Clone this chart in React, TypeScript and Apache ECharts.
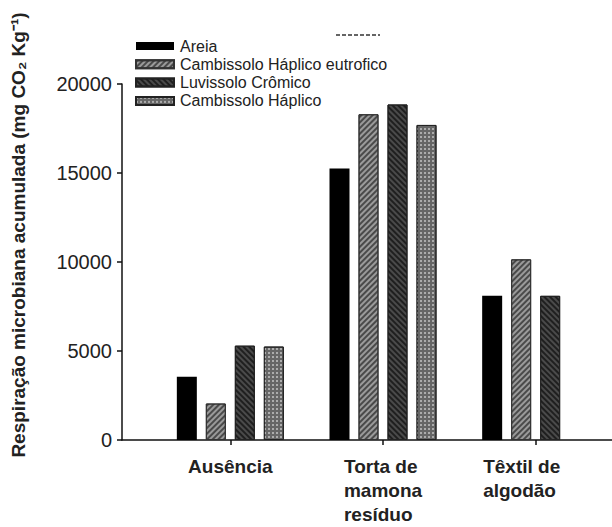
import React, { useEffect, useRef } from "react";
import * as echarts from "echarts";

const categories = ["Ausência", "Torta de\nmamona\nresíduo", "Têxtil de\nalgodão"];
const seriesNames = [
  "Areia",
  "Cambissolo Háplico eutrofico",
  "Luvissolo Crômico",
  "Cambissolo Háplico",
];
const areia = [3550, 15250, 8100];
const cambissoloEutrofico = [2050, 18300, 10150];
const luvissolo = [5300, 18850, 8100];
const cambissolo = [5250, 17700, null];
const yTicks = { min: 0, max: 20000, interval: 5000 };
const yTitle = "Respiração microbiana acumulada (mg CO₂ Kg⁻¹)";

const FONT = "'Liberation Sans', Arial, Helvetica, sans-serif";

export default function App() {
  const ref = useRef<HTMLDivElement>(null);
  useEffect(() => {
    if (!ref.current) return;
    const chart = echarts.init(ref.current, undefined, { renderer: "svg" });
    const values = [areia, cambissoloEutrofico, luvissolo, cambissolo];
    const styles: any[] = [
      { color: "#000000" },
      {
        color: "#9a9a9a",
        borderColor: "#333",
        borderWidth: 1,
        decal: {
          symbol: "rect",
          symbolSize: 1,
          dashArrayX: [1, 0],
          dashArrayY: [1.2, 1.8],
          rotation: -Math.PI / 4,
          color: "rgba(40,40,40,0.7)",
          backgroundColor: "#a8a8a8",
        },
      },
      {
        color: "#4a4a4a",
        borderColor: "#222",
        borderWidth: 1,
        decal: {
          symbol: "rect",
          symbolSize: 1,
          dashArrayX: [1, 0],
          dashArrayY: [1.2, 1.8],
          rotation: Math.PI / 4,
          color: "rgba(20,20,20,0.8)",
          backgroundColor: "#5a5a5a",
        },
      },
      {
        color: "#666",
        borderColor: "#222",
        borderWidth: 1,
        decal: {
          symbol: "rect",
          symbolSize: 1,
          dashArrayX: [2, 2],
          dashArrayY: [2, 2],
          rotation: 0,
          color: "rgba(190,190,190,0.8)",
          backgroundColor: "#4e4e4e",
        },
      },
    ];
    const labelRich = {
      a: {
        fontFamily: FONT,
        fontSize: 19,
        fontWeight: "bold",
        color: "#222",
        align: "left",
        lineHeight: 24,
      },
      b: {
        fontFamily: FONT,
        fontSize: 19,
        fontWeight: "bold",
        color: "#222",
        align: "left",
        lineHeight: 24,
        padding: [0, 28, 0, 0],
      },
    };
    chart.setOption({
      animation: false,
      backgroundColor: "#ffffff",
      grid: [
        { left: 122, right: 0, top: 84, bottom: 87, containLabel: false },
        { left: 154, width: 459, top: 84, bottom: 87, containLabel: false },
      ],
      legend: {
        orient: "vertical",
        left: 130,
        top: 33,
        itemWidth: 38,
        itemHeight: 8,
        itemGap: 2.3,
        icon: "rect",
        data: seriesNames,
        textStyle: {
          fontFamily: FONT,
          fontSize: 16,
          color: "#222",
          padding: [0, 0, 0, 1],
        },
      },
      xAxis: [
        {
          type: "value",
          gridIndex: 0,
          min: 0,
          max: 1,
          axisLine: { show: true, lineStyle: { color: "#111", width: 1.5 } },
          axisTick: { show: false },
          axisLabel: { show: false },
          splitLine: { show: false },
        },
        {
          type: "category",
          gridIndex: 1,
          data: categories,
          axisLine: { show: false },
          axisTick: {
            show: true,
            alignWithLabel: true,
            length: 5,
            lineStyle: { color: "#111", width: 1.5 },
          },
          axisLabel: {
            margin: 14,
            interval: 0,
            formatter: (v: string) => {
              const key = v.startsWith("Têxtil") ? "b" : "a";
              return v
                .split("\n")
                .map((l) => `{${key}|${l}}`)
                .join("\n");
            },
            rich: labelRich,
          },
        },
      ],
      yAxis: [
        {
          type: "value",
          gridIndex: 0,
          min: yTicks.min,
          max: yTicks.max,
          interval: yTicks.interval,
          axisLine: { show: true, lineStyle: { color: "#111", width: 1.5 } },
          axisTick: { show: true, length: 5, lineStyle: { color: "#111", width: 1.5 } },
          axisLabel: {
            fontFamily: FONT,
            fontSize: 20,
            color: "#222",
            margin: 10,
            formatter: (v: number) => String(v),
          },
          splitLine: { show: false },
        },
        {
          type: "value",
          gridIndex: 1,
          min: yTicks.min,
          max: yTicks.max,
          interval: yTicks.interval,
          show: false,
          splitLine: { show: false },
        },
      ],
      graphic: [
        {
          type: "text",
          x: 18,
          y: 235,
          rotation: Math.PI / 2,
          style: {
            text: yTitle,
            font: `bold 19px ${FONT}`,
            fill: "#222",
            align: "center",
            verticalAlign: "middle",
          },
        },
        {
          type: "line",
          shape: { x1: 336, y1: 35, x2: 380, y2: 35 },
          style: { stroke: "#333", lineWidth: 1.5, lineDash: [4, 2] },
        },
      ],
      series: seriesNames.map((name, i) => ({
        name,
        type: "bar",
        xAxisIndex: 1,
        yAxisIndex: 1,
        data: values[i],
        barWidth: 20,
        barGap: "45%",
        itemStyle: styles[i],
      })),
    });
    return () => chart.dispose();
  }, []);
  return (
    <div
      ref={ref}
      style={{ position: "absolute", left: 0, top: 0, width: 612, height: 527 }}
    />
  );
}
